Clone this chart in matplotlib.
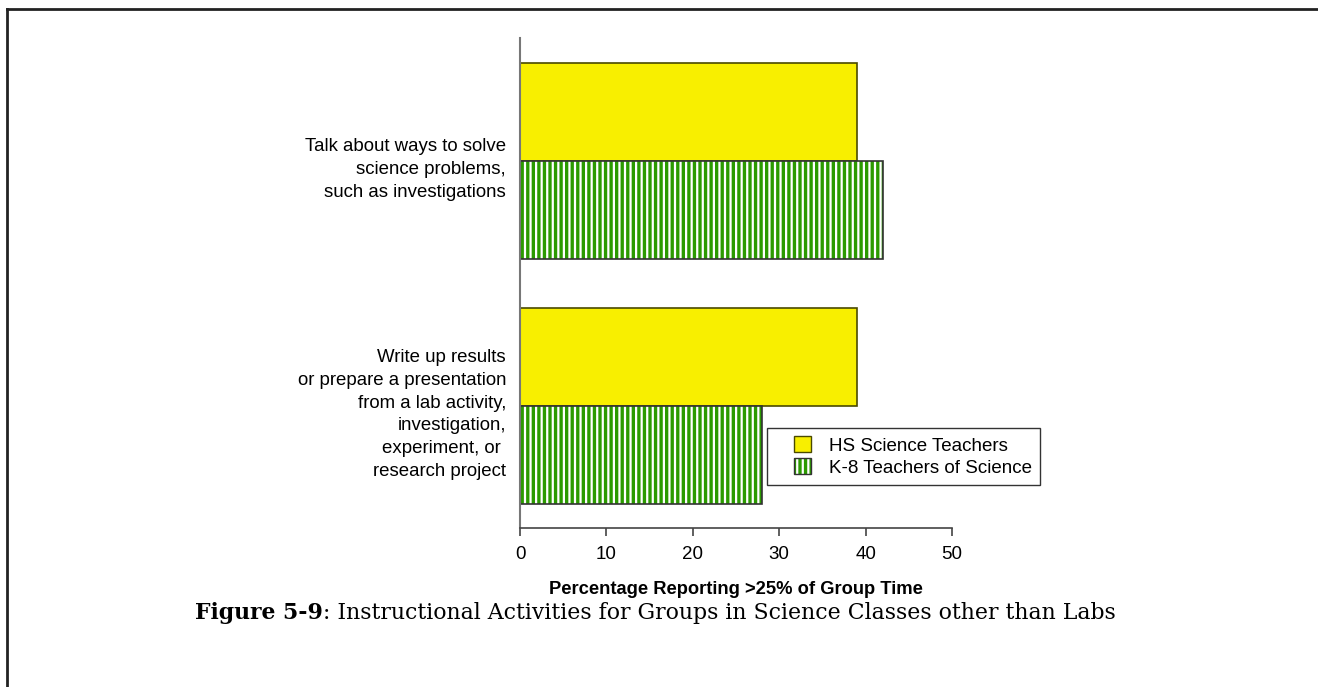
import numpy as np
import matplotlib
matplotlib.use('Agg')
import matplotlib.pyplot as plt
import matplotlib.transforms as mtransforms
from matplotlib.patches import Patch, Rectangle
from matplotlib.lines import Line2D
from matplotlib.legend_handler import HandlerTuple, HandlerPatch

plt.rcParams['font.family'] = ['Liberation Sans', 'DejaVu Sans']

# data
categories = ['Talk about ways to solve\nscience problems,\nsuch as investigations',
              'Write up results\nor prepare a presentation\nfrom a lab activity,\ninvestigation,\nexperiment, or \nresearch project']
hs_values = [39, 39]
k8_values = [42, 28]
series_names = ['HS Science Teachers', 'K-8 Teachers of Science']
xticks = [0, 10, 20, 30, 40, 50]

yellow = '#f8ef00'
green = '#2b9a00'

fig = plt.figure(figsize=(13.18, 6.87), dpi=100)
ax = fig.add_axes([520/1318, 1-528/687, 432/1318, 490/687])

pos = np.arange(len(categories))
h = 0.4
ax.barh(pos - h/2, hs_values, height=h, color=yellow, edgecolor='#4a4a00', linewidth=1.2)
# green bars: green face with white vertical stripes, then a dark outline
plt.rcParams['hatch.linewidth'] = 1.6
ax.barh(pos + h/2, k8_values, height=h, color=green, edgecolor='white', hatch='|||', linewidth=0)
ax.barh(pos + h/2, k8_values, height=h, fill=False, edgecolor='#333333', linewidth=1.2)

ax.set_ylim(1.5, -0.5)
ax.set_xlim(0, 50)
ax.set_xticks(xticks)
ax.set_xticklabels([str(t) for t in xticks], fontsize=13.5)
ax.set_yticks(pos)
ax.set_yticklabels(categories, fontsize=13.4, linespacing=1.45)
ax.tick_params(axis='y', length=0, pad=10)
ax.tick_params(axis='x', length=6, width=1.2, color='#444444', pad=7)
# labels sit a little below the group centre in the original
shift = mtransforms.ScaledTranslation(0, -4/100, fig.dpi_scale_trans)
for lab in ax.get_yticklabels():
    lab.set_transform(lab.get_transform() + shift)
for s in ['top', 'right']:
    ax.spines[s].set_visible(False)
ax.spines['left'].set_color('#777777')
ax.spines['left'].set_linewidth(1.5)
ax.spines['bottom'].set_color('#444444')
ax.spines['bottom'].set_linewidth(1.2)
ax.set_xlabel('Percentage Reporting >25% of Group Time', fontsize=13.2, fontweight='bold', labelpad=13)


# legend: small square swatch placed at the right end of the handle box
def square_patch(legend, orig_handle, xdescent, ydescent, width, height, fontsize):
    w = 0.9 * fontsize
    return Rectangle((-xdescent + width - w, -ydescent), w, height)


handles = [Patch(facecolor=yellow, edgecolor='#4a4a00'),
           (Patch(facecolor=green, edgecolor='white', hatch='|||', linewidth=0),
            Patch(fill=False, edgecolor='#333333'))]
leg = fig.legend(handles, series_names, loc='upper left', bbox_to_anchor=(767/1318, 1-428/687),
                 fontsize=13.5, frameon=True, fancybox=False, edgecolor='black',
                 handlelength=1.9, handleheight=0.9, handletextpad=0.95, borderpad=0.45,
                 labelspacing=0.2, borderaxespad=0,
                 handler_map={tuple: HandlerTuple(ndivide=1, pad=0),
                              Patch: HandlerPatch(patch_func=square_patch)})
leg.get_frame().set_linewidth(1.0)

# page border (top and left only)
fig.add_artist(Line2D([7/1318, 1], [1-9/687, 1-9/687], color='#222222', linewidth=2, transform=fig.transFigure))
fig.add_artist(Line2D([7/1318, 7/1318], [0, 1-9/687], color='#222222', linewidth=2, transform=fig.transFigure))

# caption
fig.canvas.draw()
r = fig.canvas.get_renderer()
cap_y = 1-613/687
t1 = fig.text(195/1318, cap_y, 'Figure 5-9', fontsize=15.8, fontweight='bold', family='DejaVu Serif', va='center')
bb = t1.get_window_extent(r)
fig.text(bb.x1/1318, cap_y, ': Instructional Activities for Groups in Science Classes other than Labs',
         fontsize=15.8, family='DejaVu Serif', va='center')

fig.savefig('out.png', dpi=100)
